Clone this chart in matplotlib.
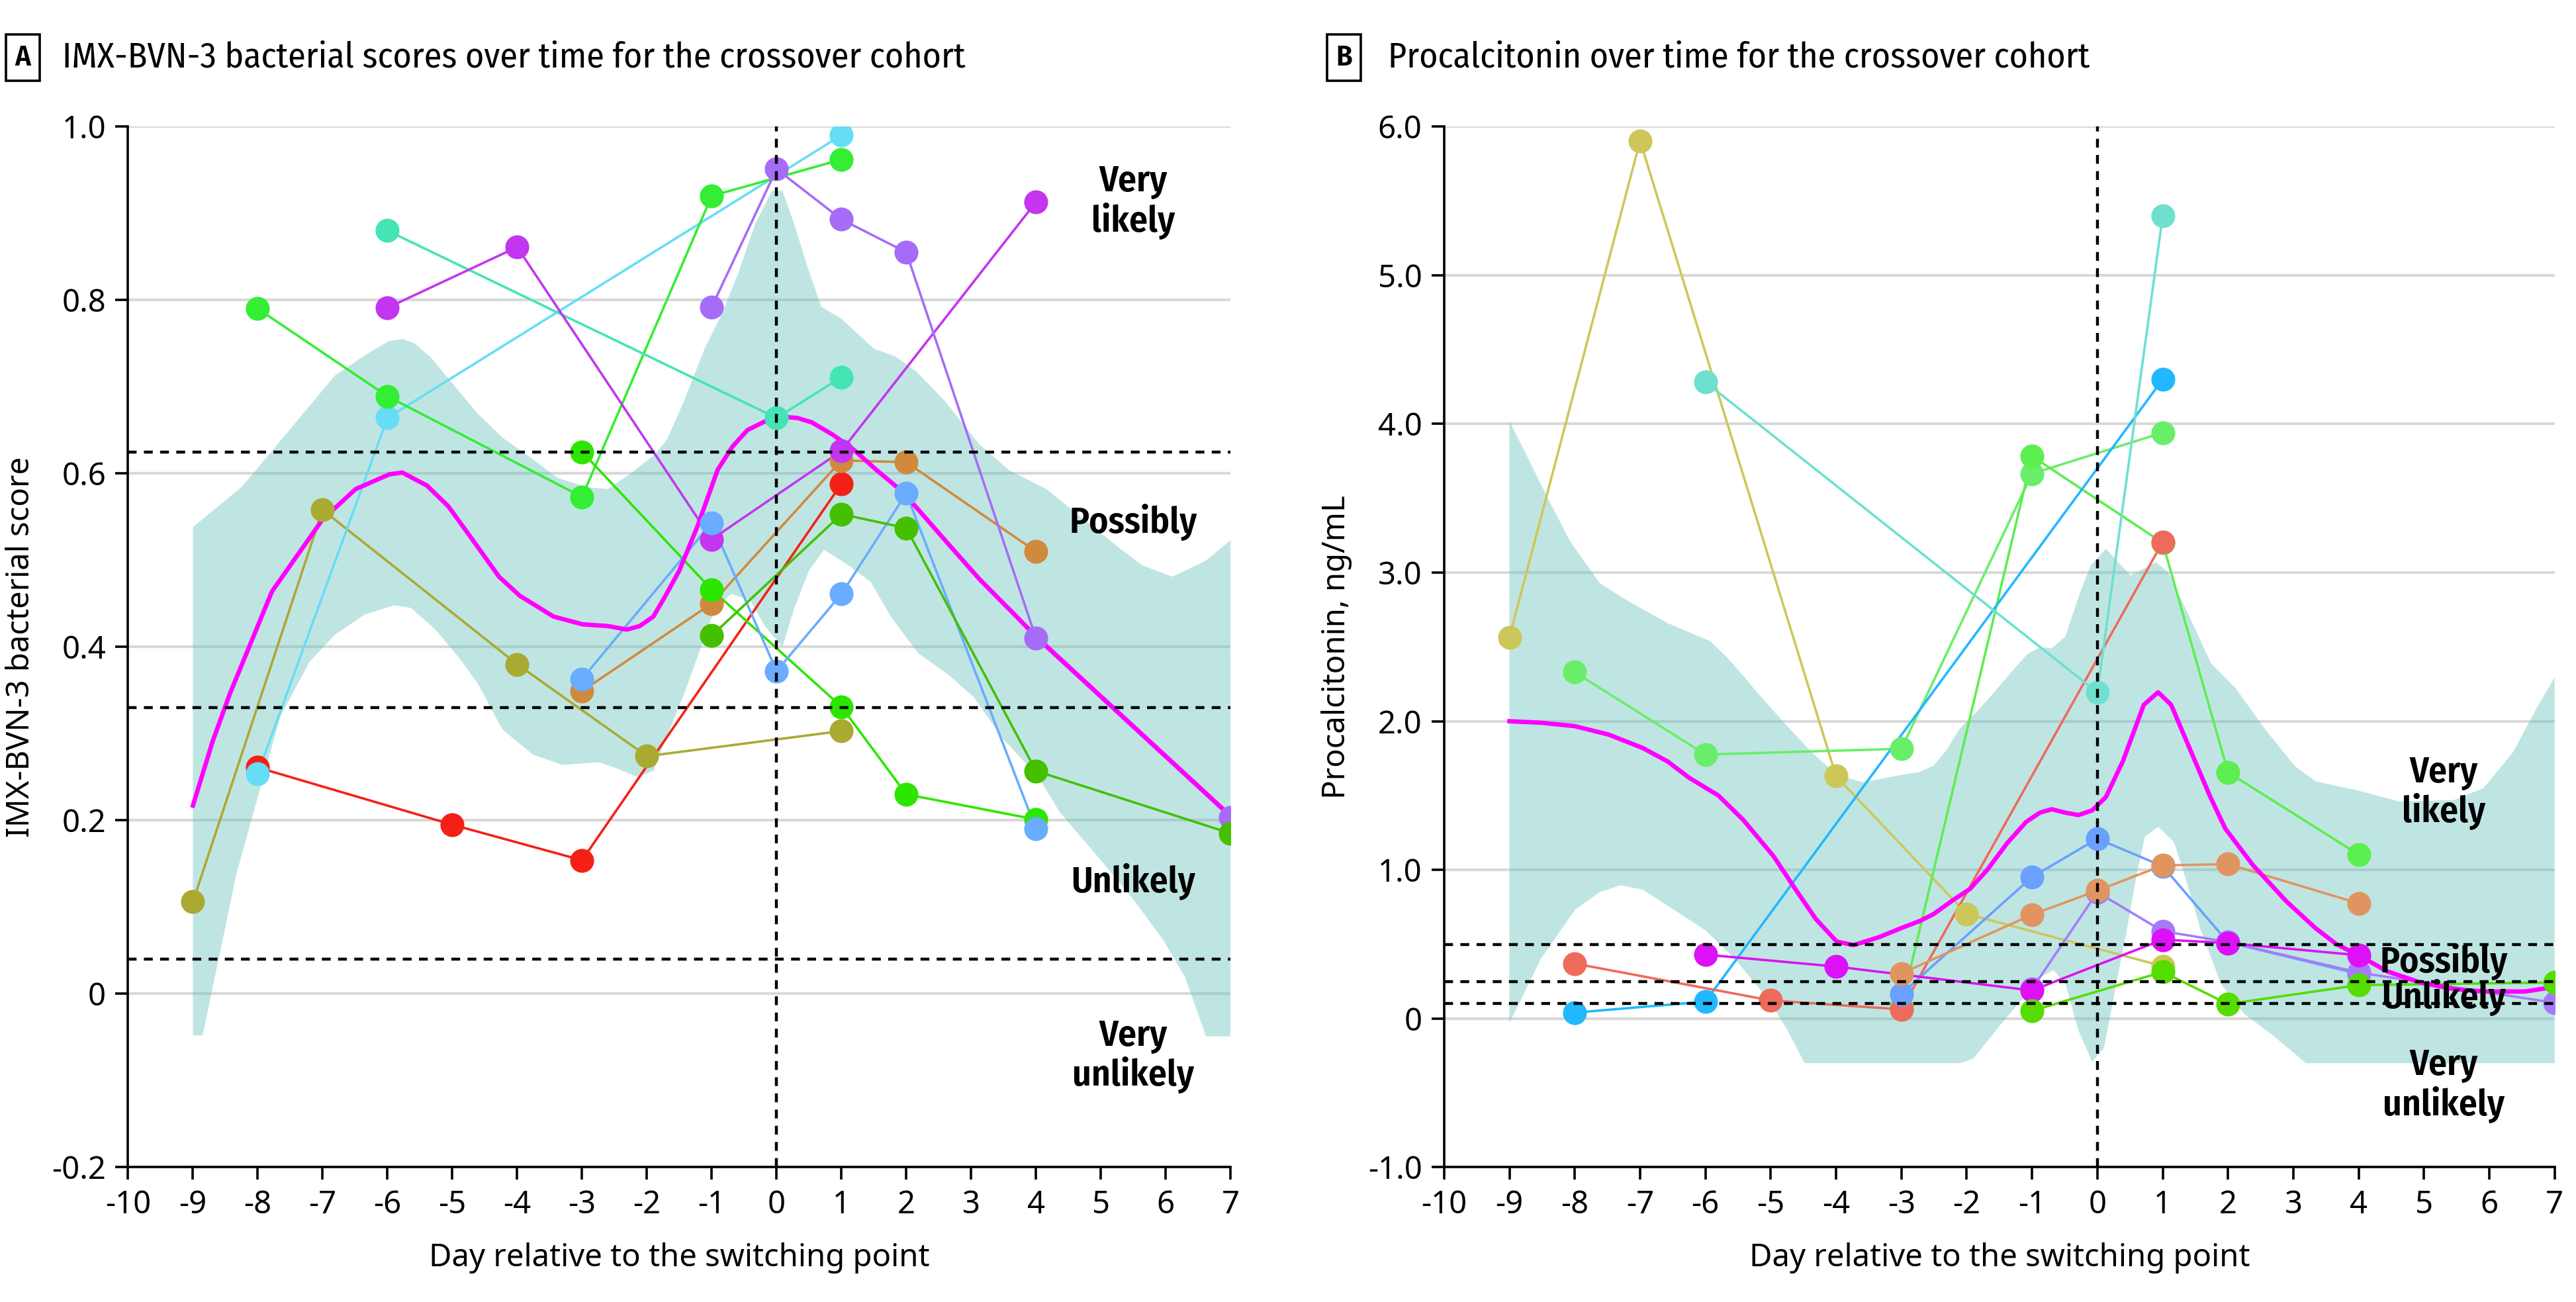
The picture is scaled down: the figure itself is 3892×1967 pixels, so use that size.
import matplotlib
matplotlib.use("Agg")
import matplotlib.pyplot as plt
from matplotlib import font_manager
from matplotlib.font_manager import FontProperties

# ---- fonts ----
plt.rcParams["font.family"] = ["Noto Sans", "DejaVu Sans"]
plt.rcParams["axes.unicode_minus"] = False

installed = {f.name for f in font_manager.fontManager.ttflist}
NARROW = "Fira Sans Condensed" if "Fira Sans Condensed" in installed else "DejaVu Sans"


def narrow(size, weight="normal"):
    return FontProperties(family=[NARROW, "DejaVu Sans"], size=size, weight=weight)


# ---- panel A: IMX-BVN-3 bacterial score ----
a_days = {
    "olive":     [-9, -7, -4, -2, 1],
    "red":       [-8, -5, -3, 1],
    "cyan":      [-8, -6, 1],
    "greenA":    [-8, -6, -3, -1, 1],
    "teal":      [-6, 0, 1],
    "violet":    [-6, -4, -1, 1, 4],
    "greenB":    [-3, -1, 1, 2, 4],
    "orange":    [-3, -1, 1, 2, 4],
    "blue":      [-3, -1, 0, 1, 2, 4],
    "lavender":  [-1, 0, 1, 2, 4, 7],
    "darkgreen": [-1, 1, 2, 4, 7],
}
a_vals = {
    "olive":     [0.106, 0.558, 0.380, 0.274, 0.303],
    "red":       [0.261, 0.195, 0.154, 0.588],
    "cyan":      [0.254, 0.664, 0.990],
    "greenA":    [0.790, 0.689, 0.573, 0.920, 0.962],
    "teal":      [0.880, 0.664, 0.711],
    "violet":    [0.791, 0.861, 0.524, 0.626, 0.913],
    "greenB":    [0.625, 0.466, 0.331, 0.230, 0.201],
    "orange":    [0.349, 0.450, 0.615, 0.613, 0.510],
    "blue":      [0.363, 0.543, 0.372, 0.461, 0.577, 0.190],
    "lavender":  [0.792, 0.951, 0.893, 0.855, 0.410, 0.203],
    "darkgreen": [0.413, 0.553, 0.537, 0.257, 0.185],
}
a_colors = {
    "olive": "#aaaa33", "red": "#f52015", "cyan": "#66ddf5", "greenA": "#33ee33",
    "teal": "#44e4b4", "violet": "#c435f0", "greenB": "#2de600", "orange": "#d08a3e",
    "blue": "#6aacff", "lavender": "#a66cf7", "darkgreen": "#44c000",
}
a_order = ["olive", "red", "cyan", "greenA", "teal", "orange", "violet", "greenB",
           "blue", "lavender", "darkgreen"]

a_mean_x = [-9, -8.7, -8.43, -7.78, -7.0, -6.49, -5.97, -5.77, -5.39, -5.06, -4.74, -4.28,
            -3.96, -3.44, -2.99, -2.6, -2.31, -2.11, -1.9, -1.72, -1.5, -1.22, -0.91, -0.68,
            -0.45, -0.18, 0.14, 0.32, 0.54, 0.86, 1.18, 1.54, 1.86, 2.13, 2.68, 3.13, 3.58,
            4.0, 7.0]
a_mean_y = [0.217, 0.29, 0.346, 0.464, 0.547, 0.582, 0.599, 0.601, 0.586, 0.562, 0.529, 0.481,
            0.459, 0.435, 0.426, 0.424, 0.420, 0.424, 0.435, 0.458, 0.488, 0.539, 0.604, 0.631,
            0.650, 0.660, 0.665, 0.664, 0.659, 0.645, 0.628, 0.604, 0.584, 0.563, 0.516, 0.478,
            0.444, 0.412, 0.205]

a_up_x = [-9, -8.24, -7.59, -6.81, -6.29, -5.97, -5.77, -5.58, -5.32, -5.0, -4.61, -4.22,
          -3.77, -3.38, -2.92, -2.6, -2.27, -1.89, -1.69, -1.43, -1.11, -0.85, -0.59, -0.33,
          -0.07, 0.09, 0.27, 0.47, 0.69, 0.99, 1.5, 1.83, 2.15, 2.6, 3.12, 3.58, 4.16, 4.67,
          5.32, 5.64, 6.1, 6.61, 7.0]
a_up_y = [0.538, 0.585, 0.643, 0.713, 0.739, 0.753, 0.755, 0.750, 0.733, 0.704, 0.669, 0.641,
          0.617, 0.595, 0.584, 0.582, 0.599, 0.621, 0.639, 0.683, 0.744, 0.783, 0.831, 0.888,
          0.926, 0.926, 0.888, 0.840, 0.792, 0.779, 0.744, 0.735, 0.718, 0.683, 0.634, 0.604,
          0.582, 0.551, 0.512, 0.494, 0.481, 0.499, 0.523]
a_lo_x = [-9, -8.85, -8.62, -8.33, -8.04, -7.65, -7.2, -6.81, -6.36, -5.9, -5.64, -5.26,
          -4.87, -4.6, -4.23, -3.76, -3.31, -2.73, -2.47, -2.14, -1.9, -1.41, -0.95, -0.7,
          -0.41, -0.18, 0.09, 0.27, 0.5, 0.73, 1.09, 1.45, 1.77, 2.18, 2.68, 3.04, 3.49, 4.04,
          4.36, 5.0, 5.52, 5.98, 6.3, 6.62, 7.0]
a_lo_y = [-0.048, -0.048, 0.034, 0.138, 0.216, 0.320, 0.383, 0.414, 0.437, 0.448, 0.445, 0.420,
          0.385, 0.357, 0.305, 0.276, 0.264, 0.267, 0.260, 0.250, 0.257, 0.349, 0.444, 0.461,
          0.454, 0.424, 0.400, 0.444, 0.488, 0.512, 0.495, 0.475, 0.434, 0.393, 0.366, 0.342,
          0.294, 0.250, 0.210, 0.154, 0.107, 0.060, 0.019, -0.049, -0.049]

a_cuts = [0.04, 0.33, 0.625]
a_ticks = [-0.2, 0, 0.2, 0.4, 0.6, 0.8, 1.0]
a_ticklabels = ["-0.2", "0", "0.2", "0.4", "0.6", "0.8", "1.0"]
a_zones = [("Very\nlikely", 5.5, 0.913), ("Possibly", 5.5, 0.544),
           ("Unlikely", 5.5, 0.129), ("Very\nunlikely", 5.5, -0.072)]

# ---- panel B: procalcitonin ----
b_days = {
    "yellow":   [-9, -7, -4, -2, 1],
    "mintA":    [-8, -6, -3, -1, 1],
    "greenC":   [-3, -1, 1, 2, 4],
    "sky":      [-8, -6, 1],
    "salmon":   [-8, -5, -3, 1],
    "teal":     [-6, 0, 1],
    "magenta":  [-6, -4, -1, 1, 2, 4],
    "blue":     [-3, -1, 0, 1, 2, 4],
    "lavender": [-1, 0, 1, 2, 4, 7],
    "orange":   [-3, -1, 0, 1, 2, 4],
    "green":    [-1, 1, 2, 4, 7],
}
b_vals = {
    "yellow":   [2.564, 5.905, 1.631, 0.704, 0.353],
    "mintA":    [2.33, 1.776, 1.815, 3.665, 3.941],
    "greenC":   [0.08, 3.783, 3.2, 1.657, 1.103],
    "sky":      [0.04, 0.114, 4.299],
    "salmon":   [0.37, 0.122, 0.062, 3.205],
    "teal":     [4.281, 2.194, 5.399],
    "magenta":  [0.43, 0.35, 0.189, 0.531, 0.508, 0.426],
    "blue":     [0.166, 0.952, 1.21, 1.025, 0.513, 0.30],
    "lavender": [0.20, 0.85, 0.588, 0.515, 0.31, 0.106],
    "orange":   [0.303, 0.699, 0.861, 1.03, 1.039, 0.775],
    "green":    [0.052, 0.314, 0.098, 0.225, 0.243],
}
b_colors = {
    "yellow": "#cdc75a", "mintA": "#6aee6a", "greenC": "#5dee50", "sky": "#22b8ff",
    "salmon": "#ee6a5a", "teal": "#6ee0d0", "magenta": "#dd11f5", "blue": "#6aa0ff",
    "lavender": "#a47cf8", "orange": "#e09560", "green": "#55dd00",
}
b_order = ["yellow", "mintA", "greenC", "sky", "salmon", "teal", "blue", "lavender",
           "orange", "magenta", "green"]

b_mean_x = [-9, -8.52, -8.0, -7.48, -6.96, -6.58, -6.25, -5.8, -5.42, -4.96, -4.64, -4.31,
            -3.99, -3.73, -3.34, -3.0, -2.72, -2.51, -2.2, -1.95, -1.69, -1.38, -1.09, -0.88,
            -0.7, -0.49, -0.29, -0.08, 0.13, 0.39, 0.71, 0.93, 1.13, 1.41, 1.73, 1.96, 2.38,
            2.89, 3.34, 3.66, 4.0, 4.43, 4.94, 5.46, 5.91, 6.55, 7.0]
b_mean_y = [2.0, 1.99, 1.967, 1.91, 1.82, 1.73, 1.62, 1.50, 1.336, 1.094, 0.882, 0.67,
            0.518, 0.494, 0.548, 0.609, 0.656, 0.702, 0.80, 0.872, 0.998, 1.18, 1.323, 1.385,
            1.408, 1.385, 1.369, 1.40, 1.49, 1.73, 2.11, 2.195, 2.11, 1.82, 1.49, 1.277, 1.033,
            0.79, 0.608, 0.50, 0.426, 0.319, 0.243, 0.198, 0.182, 0.182, 0.213]

b_up_x = [-9, -8.75, -8.39, -8.07, -7.62, -7.23, -6.58, -5.93, -5.67, -5.41, -5.22, -4.76,
          -4.37, -3.99, -3.6, -3.34, -3.04, -2.73, -2.51, -2.31, -2.1, -1.84, -1.58, -1.32,
          -1.06, -0.86, -0.7, -0.49, -0.26, -0.1, 0.13, 0.32, 0.51, 0.9, 1.09, 1.35, 1.74,
          2.12, 2.57, 3.02, 3.34, 3.98, 4.62, 5.46, 5.91, 6.36, 6.74, 7.0]
b_up_y = [4.018, 3.80, 3.48, 3.21, 2.93, 2.82, 2.66, 2.54, 2.43, 2.30, 2.20, 1.973,
          1.79, 1.64, 1.59, 1.61, 1.636, 1.658, 1.70, 1.806, 1.954, 2.068, 2.194, 2.33,
          2.456, 2.50, 2.49, 2.57, 2.87, 3.05, 3.16, 3.07, 2.98, 3.07, 3.0, 2.76, 2.39,
          2.22, 1.945, 1.70, 1.596, 1.535, 1.46, 1.47, 1.55, 1.79, 2.10, 2.295]
b_lo_x = [-9, -8.52, -8.0, -7.62, -7.3, -6.96, -6.58, -6.0, -5.54, -5.03, -4.77, -4.48,
          -2.1, -1.9, -1.48, -1.17, -0.86, -0.67, -0.49, -0.29, -0.08, 0.1, 0.29, 0.44,
          0.6, 0.73, 0.93, 1.17, 1.37, 1.58, 1.89, 2.25, 2.67, 2.98, 3.19, 7.0]
b_lo_y = [-0.03, 0.40, 0.73, 0.85, 0.897, 0.867, 0.76, 0.594, 0.397, 0.124, -0.058, -0.30,
          -0.30, -0.27, -0.04, 0.12, 0.28, 0.326, 0.235, -0.08, -0.29, -0.198, 0.235, 0.57,
          0.964, 1.226, 1.29, 1.19, 0.917, 0.599, 0.235, 0.03, -0.107, -0.22, -0.30, -0.30]

b_cuts = [0.1, 0.25, 0.5]
b_ticks = [-1, 0, 1, 2, 3, 4, 5, 6]
b_ticklabels = ["-1.0", "0", "1.0", "2.0", "3.0", "4.0", "5.0", "6.0"]
b_zones = [("Very\nlikely", 5.3, 1.52), ("Possibly", 5.3, 0.383),
           ("Unlikely", 5.3, 0.14), ("Very\nunlikely", 5.3, -0.45)]

x_ticks = list(range(-10, 8))

BAND = "#5fbfba"
MEAN = "#ff00ff"


def draw_panel(ax, days, vals, colors, order, mean_x, mean_y, up_x, up_y, lo_x, lo_y,
               cuts, ticks, ticklabels, ylim, zones, ylabel):
    for t in ticks[1:]:
        ax.axhline(t, color="#d9d9d9", lw=1.5, zorder=0)
    ax.fill(up_x + lo_x[::-1], up_y + lo_y[::-1], color=BAND, alpha=0.4, lw=0, zorder=1)
    for k in order:
        ax.plot(days[k], vals[k], color=colors[k], lw=1.3, zorder=3)
    ax.plot(mean_x, mean_y, color=MEAN, lw=2.4, zorder=3.5, solid_joinstyle="round")
    for k in order:
        ax.plot(days[k], vals[k], ls="none", marker="o", ms=13, mec="none",
                color=colors[k], zorder=4)
    for c in cuts:
        ax.axhline(c, color="black", lw=1.6, ls=(0, (3, 2.5)), zorder=5)
    ax.axvline(0, ymin=0, ymax=1, color="black", lw=1.6, ls=(0, (3, 2.5)), zorder=5)
    for txt, x, y in zones:
        ax.text(x, y, txt, ha="center", va="center", fontproperties=narrow(20, "semibold"),
                linespacing=1.1, zorder=6)

    ax.set_xlim(-10, 7)
    ax.set_ylim(*ylim)
    ax.set_xticks(x_ticks)
    ax.set_xticklabels([str(t) for t in x_ticks])
    ax.set_yticks(ticks)
    ax.set_yticklabels(ticklabels)
    ax.tick_params(axis="both", labelsize=17, length=7, width=1.3, direction="out",
                   color="black", pad=5)
    for s in ("top", "right"):
        ax.spines[s].set_visible(False)
    for s in ("left", "bottom"):
        ax.spines[s].set_linewidth(1.3)
    ax.set_xlabel("Day relative to the switching point", fontsize=17)
    ax.set_ylabel(ylabel, fontsize=17)
    ax.xaxis.set_label_coords(0.5, -0.072)
    ax.yaxis.set_label_coords(-0.083, 0.5)


fig = plt.figure(figsize=(19.46, 9.835), dpi=200)
axA = fig.add_axes([0.0497, 0.1035, 0.428, 0.7993])
axB = fig.add_axes([0.5606, 0.1035, 0.4311, 0.7993])

draw_panel(axA, a_days, a_vals, a_colors, a_order, a_mean_x, a_mean_y,
           a_up_x, a_up_y, a_lo_x, a_lo_y, a_cuts, a_ticks, a_ticklabels, (-0.2, 1.0),
           a_zones, "IMX-BVN-3 bacterial score")
draw_panel(axB, b_days, b_vals, b_colors, b_order, b_mean_x, b_mean_y,
           b_up_x, b_up_y, b_lo_x, b_lo_y, b_cuts, b_ticks, b_ticklabels, (-1.0, 6.0),
           b_zones, "Procalcitonin, ng/mL")

box = dict(boxstyle="square,pad=0.3", fc="white", ec="black", lw=1.3)
fig.text(0.0089, 0.9558, "A", ha="center", va="center", fontproperties=narrow(16, "semibold"),
         bbox=box)
fig.text(0.0242, 0.9558, "IMX-BVN-3 bacterial scores over time for the crossover cohort",
         ha="left", va="center", fontproperties=narrow(19.4))
fig.text(0.5217, 0.9558, "B", ha="center", va="center", fontproperties=narrow(16, "semibold"),
         bbox=box)
fig.text(0.5389, 0.9558, "Procalcitonin over time for the crossover cohort",
         ha="left", va="center", fontproperties=narrow(19.4))

fig.savefig("out.png", dpi=200, facecolor="white")
